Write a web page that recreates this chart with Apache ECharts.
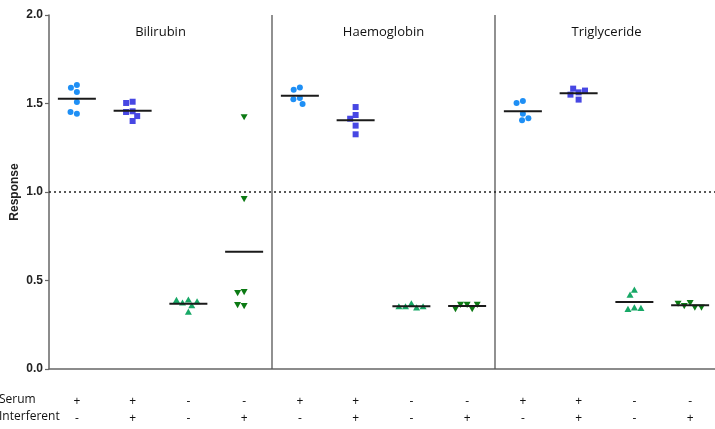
<!DOCTYPE html>
<html>
<head>
<meta charset="utf-8">
<script src="https://cdn.jsdelivr.net/npm/echarts@6/dist/echarts.min.js"></script>
<style>
  html, body { margin: 0; padding: 0; background: #fff; }
  #chart { width: 715px; height: 429px; }
</style>
</head>
<body>
<div id="chart"></div>
<script>
// Panels (interferent tested) and their four conditions
const panels = ['Bilirubin', 'Haemoglobin', 'Triglyceride'];
const serumSigns = ['+', '+', '-', '-'];
const interferentSigns = ['-', '+', '-', '+'];

// Replicate responses per panel and condition
const bilirubinSerum = [1.605, 1.589, 1.565, 1.508, 1.442, 1.452];
const bilirubinSerumInterferent = [1.510, 1.503, 1.456, 1.452, 1.429, 1.401];
const bilirubinBlank = [0.390, 0.373, 0.358, 0.322, 0.380, 0.388];
const bilirubinInterferent = [1.425, 0.962, 0.437, 0.431, 0.358, 0.363];

const haemoglobinSerum = [1.591, 1.578, 1.531, 1.524, 1.497];
const haemoglobinSerumInterferent = [1.480, 1.435, 1.414, 1.375, 1.326];
const haemoglobinBlank = [0.369, 0.352, 0.346, 0.352, 0.352];
const haemoglobinInterferent = [0.365, 0.365, 0.341, 0.341, 0.365];

const triglycerideSerum = [1.514, 1.503, 1.442, 1.405, 1.416];
const triglycerideSerumInterferent = [1.563, 1.584, 1.573, 1.550, 1.522];
const triglycerideBlank = [0.446, 0.418, 0.346, 0.337, 0.343];
const triglycerideInterferent = [0.375, 0.358, 0.349, 0.349, 0.371];

const referenceLevel = 1.0;
const titleLevel = 1.9;

const groups = [
  bilirubinSerum, bilirubinSerumInterferent, bilirubinBlank, bilirubinInterferent,
  haemoglobinSerum, haemoglobinSerumInterferent, haemoglobinBlank, haemoglobinInterferent,
  triglycerideSerum, triglycerideSerumInterferent, triglycerideBlank, triglycerideInterferent
];
const categories = groups.map((g, i) => serumSigns[i % 4] + '\n' + interferentSigns[i % 4]);

// Marker style per condition
const markerColors = ['#1E8FF5', '#4747E3', '#17A866', '#0C7A14'];
const markerSize = 6;
const swarmGap = 6.6;
const meanHalfWidth = 19;

const FONT = '"Open Sans", "Liberation Sans", sans-serif';
const AXIS_FONT = '"Liberation Sans", Arial, sans-serif';

function mean(a) { return a.reduce((s, v) => s + v, 0) / a.length; }

// Beeswarm: place each point nearest the centre without overlapping earlier ones
function swarm(ys, d) {
  const placed = [];
  ys.forEach(y => {
    const cands = [0];
    placed.forEach(p => {
      const dy = Math.abs(p.y - y);
      if (dy < d) {
        const dx = Math.sqrt(d * d - dy * dy);
        cands.push(p.x + dx, p.x - dx);
      }
    });
    cands.sort((a, b) => Math.abs(a) - Math.abs(b) || a - b);
    let best = 0;
    for (const c of cands) {
      const ok = placed.every(p => (p.x - c) ** 2 + (p.y - y) ** 2 >= d * d - 1e-6);
      if (ok) { best = c; break; }
    }
    placed.push({ x: best, y: y });
  });
  return placed.map(p => p.x);
}

function markerShape(kind, cx, cy, color) {
  const r = markerSize / 2;
  const style = { fill: color };
  if (kind === 0) return { type: 'circle', shape: { cx: cx, cy: cy, r: r }, style: style };
  if (kind === 1) return { type: 'rect', shape: { x: cx - r, y: cy - r, width: markerSize, height: markerSize }, style: style };
  const t = r + 0.5;
  if (kind === 2) return { type: 'polygon', shape: { points: [[cx, cy - t], [cx + t, cy + t * 0.75], [cx - t, cy + t * 0.75]] }, style: style };
  return { type: 'polygon', shape: { points: [[cx - t, cy - t * 0.75], [cx + t, cy - t * 0.75], [cx, cy + t]] }, style: style };
}

function renderGroup(params, api) {
  const idx = api.value(0);
  const vals = groups[idx];
  const kind = idx % 4;
  const centre = api.coord([idx, 0])[0];
  const ys = vals.map(v => api.coord([idx, v])[1]);
  const xs = swarm(ys, swarmGap);
  const children = vals.map((v, k) => markerShape(kind, centre + xs[k], ys[k], markerColors[kind]));
  const my = api.coord([idx, mean(vals)])[1];
  children.push({
    type: 'line',
    shape: { x1: centre - meanHalfWidth, y1: my, x2: centre + meanHalfWidth, y2: my },
    style: { stroke: '#1a1a1a', lineWidth: 2 }
  });
  return { type: 'group', children: children };
}

function renderDivider(params, api) {
  const i = api.value(0);
  const x = (api.coord([i, 0])[0] + api.coord([i + 1, 0])[0]) / 2;
  const top = api.coord([i, 2])[1];
  const bottom = api.coord([i, 0])[1];
  return {
    type: 'line',
    shape: { x1: x, y1: top, x2: x, y2: bottom },
    style: { stroke: '#555', lineWidth: 1.3 }
  };
}

function renderTitle(params, api) {
  const p = params.dataIndex;
  const x = (api.coord([p * 4 + 1, 0])[0] + api.coord([p * 4 + 2, 0])[0]) / 2;
  const y = api.coord([p * 4, titleLevel])[1];
  return {
    type: 'text',
    style: {
      x: x, y: y, text: panels[p], fill: '#111',
      font: '13px ' + FONT, textAlign: 'center', textVerticalAlign: 'middle'
    }
  };
}

const chart = echarts.init(document.getElementById('chart'), null, { renderer: 'canvas' });

chart.setOption({
  animation: false,
  backgroundColor: '#fff',
  grid: { left: 49, top: 15, width: 669, height: 354, containLabel: false, outerBoundsMode: 'none' },
  xAxis: {
    type: 'category',
    data: categories,
    axisLine: { lineStyle: { color: '#666', width: 1.5 } },
    axisTick: { alignWithLabel: true, length: 4, lineStyle: { color: '#666', width: 1.2 } },
    axisLabel: { interval: 0, margin: 24, lineHeight: 17, fontSize: 12, color: '#111', fontFamily: FONT }
  },
  yAxis: {
    type: 'value',
    min: 0, max: 2, interval: 0.5,
    axisLine: { show: true, lineStyle: { color: '#666', width: 1.5 } },
    axisTick: { show: true, length: 4, lineStyle: { color: '#666', width: 1.2 } },
    axisLabel: {
      formatter: v => v.toFixed(1), fontWeight: 'bold', fontSize: 12, color: '#222', margin: 6,
      fontFamily: AXIS_FONT
    },
    splitLine: { show: false }
  },
  graphic: [
    {
      type: 'text', x: 15, y: 192, rotation: Math.PI / 2,
      style: { text: 'Response', fill: '#222', font: 'bold 12px ' + AXIS_FONT, textAlign: 'center', textVerticalAlign: 'middle' }
    },
    { type: 'text', left: -1, top: 394, style: { text: 'Serum', fill: '#111', font: '12px ' + FONT } },
    { type: 'text', left: -1, top: 411, style: { text: 'Interferent', fill: '#111', font: '12px ' + FONT } }
  ],
  series: [
    {
      type: 'custom',
      name: 'dividers',
      data: [[3], [7]],
      renderItem: renderDivider,
      silent: true,
      markLine: {
        silent: true,
        symbol: 'none',
        label: { show: false },
        lineStyle: { type: [2, 3], color: '#222', width: 1.5 },
        data: [{ yAxis: referenceLevel }]
      }
    },
    {
      type: 'custom',
      name: 'titles',
      data: panels.map((p, i) => [i * 4]),
      renderItem: renderTitle,
      silent: true
    },
    {
      type: 'custom',
      name: 'responses',
      data: groups.map((g, i) => [i]),
      renderItem: renderGroup,
      silent: true
    }
  ]
});
</script>
</body>
</html>
